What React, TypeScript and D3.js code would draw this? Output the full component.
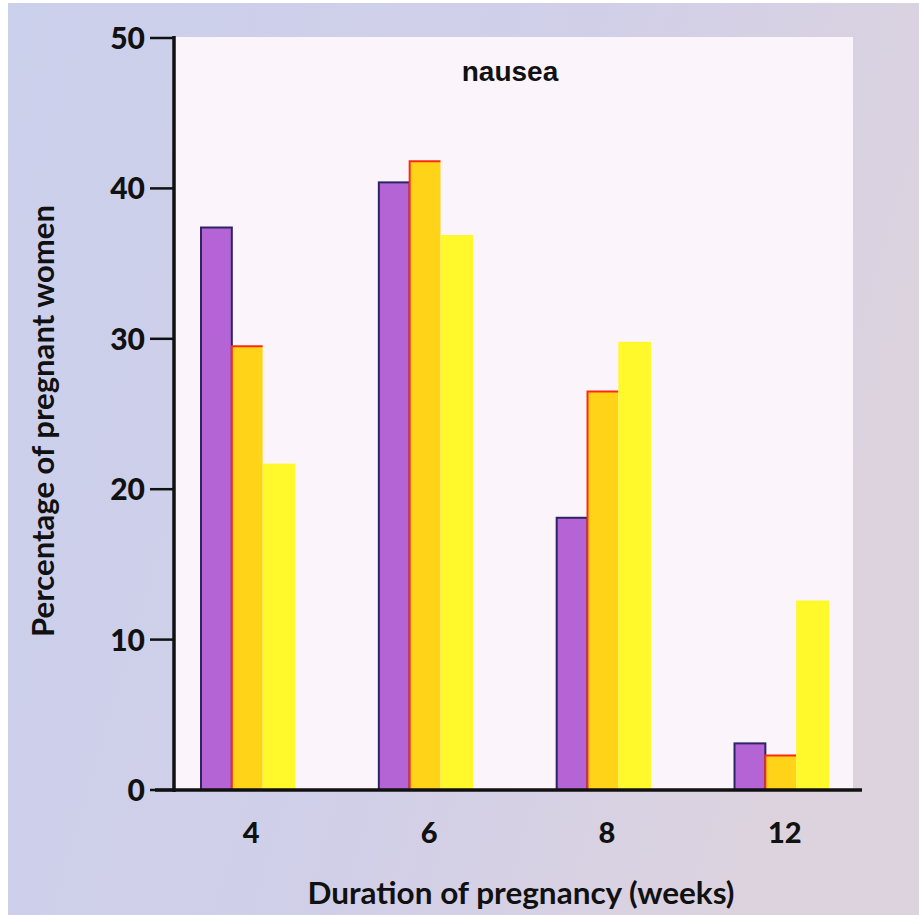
import React from "react";
import * as d3 from "d3";

const categories = ["4", "6", "8", "12"];
const seriesNames = ["purple", "gold", "yellow"];
const purpleValues = [37.4, 40.4, 18.1, 3.1];
const goldValues = [29.5, 41.8, 26.5, 2.3];
const yellowValues = [21.7, 36.9, 29.8, 12.6];
const yTicks = [0, 10, 20, 30, 40, 50];
const title = "nausea";
const xLabel = "Duration of pregnancy (weeks)";
const yLabel = "Percentage of pregnant women";

const W = 919;
const H = 915;
const FONT = "Lato, 'Open Sans', sans-serif";

export default function App() {
  const y = d3.scaleLinear().domain([0, 50]).range([790, 38]);
  const x = d3.scaleBand().domain(categories).range([201, 827]).paddingInner(0.48).paddingOuter(0);
  const sub = d3.scaleBand().domain(seriesNames).range([0, x.bandwidth()]).padding(0);
  const bw = sub.bandwidth();
  const series = [
    { name: "purple", values: purpleValues, fill: "#b464d4" },
    { name: "gold", values: goldValues, fill: "#ffd418" },
    { name: "yellow", values: yellowValues, fill: "#fff82a" },
  ];

  return (
    <svg width={W} height={H} style={{ position: "absolute", left: 0, top: 0, display: "block" }}>
      <defs>
        <linearGradient id="bg" x1="0" y1="0" x2="1" y2="0.3">
          <stop offset="0" stopColor="#cbd0ec" />
          <stop offset="0.6" stopColor="#d1cfe8" />
          <stop offset="1" stopColor="#dcd3df" />
        </linearGradient>
      </defs>
      <rect x={0} y={0} width={W} height={H} fill="#ffffff" />
      <rect x={8} y={3} width={W - 8} height={H - 3} fill="url(#bg)" />
      <rect x={175} y={37} width={678} height={753} fill="#fbf4fb" />

      {series.map((s) =>
        s.values.map((v, i) => {
          const x0 = (x(categories[i]) as number) + (sub(s.name) as number);
          const y0 = y(v);
          const h = y(0) - y0;
          if (s.name === "purple") {
            return (
              <rect key={s.name + i} x={x0} y={y0} width={bw} height={h} fill={s.fill} stroke="#2b2466" strokeWidth={2} />
            );
          }
          if (s.name === "gold") {
            return (
              <g key={s.name + i}>
                <rect x={x0} y={y0} width={bw} height={h} fill={s.fill} />
                <path d={`M${x0},${y(0)}V${y0}H${x0 + bw}`} fill="none" stroke="#ff2a10" strokeWidth={2} />
              </g>
            );
          }
          return <rect key={s.name + i} x={x0} y={y0} width={bw + 2} height={h} fill={s.fill} />;
        })
      )}

      {/* axes */}
      <line x1={174} x2={174} y1={36} y2={792} stroke="#111" strokeWidth={3.5} />
      <line x1={155} x2={862} y1={790} y2={790} stroke="#111" strokeWidth={3.5} />
      {yTicks.map((t) => (
        <g key={t}>
          <line x1={150} x2={175} y1={y(t)} y2={y(t)} stroke="#111" strokeWidth={2.5} />
          <text x={145} y={y(t) + 11} textAnchor="end" fontFamily={FONT} fontWeight={900} fontSize={30} fill="#111">
            {t}
          </text>
        </g>
      ))}
      {categories.map((c) => (
        <text
          key={c}
          x={(x(c) as number) + x.bandwidth() / 2 + 4}
          y={843}
          textAnchor="middle"
          fontFamily={FONT}
          fontWeight={900}
          fontSize={29}
          fill="#111"
        >
          {c}
        </text>
      ))}
      <text x={510} y={81} textAnchor="middle" fontFamily="'Liberation Sans', Arial, sans-serif" fontWeight={700} fontSize={28} fill="#111">
        {title}
      </text>
      <text x={521} y={904} textAnchor="middle" fontFamily={FONT} fontWeight={700} fontSize={31} fill="#111" textLength={427} lengthAdjust="spacingAndGlyphs">
        {xLabel}
      </text>
      <text
        transform={`translate(54,421) rotate(-90)`}
        textAnchor="middle"
        fontFamily={FONT}
        fontWeight={700}
        fontSize={30}
        fill="#111"
        textLength={432}
        lengthAdjust="spacingAndGlyphs"
      >
        {yLabel}
      </text>
    </svg>
  );
}
